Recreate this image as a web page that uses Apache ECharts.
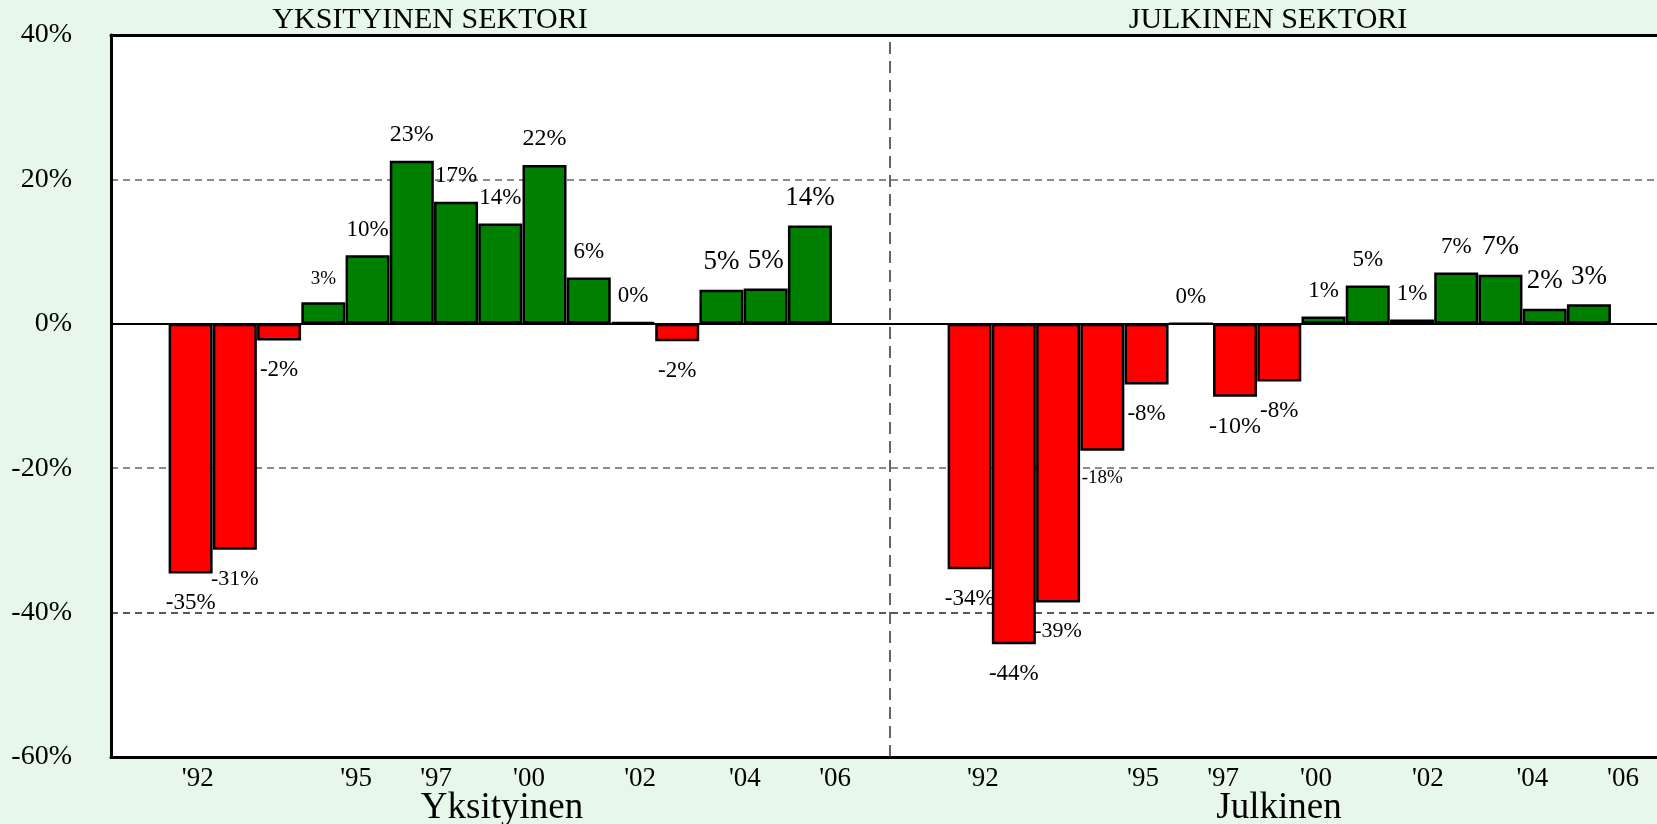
<!DOCTYPE html>
<html>
<head>
<meta charset="utf-8">
<title>Yksityinen ja julkinen sektori</title>
<script src="https://cdn.jsdelivr.net/npm/echarts@6/dist/echarts.min.js"></script>
<style>
  html, body { margin: 0; padding: 0; background: #e7f7e9; }
  #chart { width: 1657px; height: 824px; }
</style>
</head>
<body>
<div id="chart"></div>
<script>
// change in %, 15 bars per panel
const privateValues = [-34.6, -31.3, -2.3, 3.0, 9.5, 22.6, 16.9, 13.9, 22.0, 6.4, 0.2, -2.4, 4.7, 4.9, 13.6];
const publicValues = [-34.0, -44.4, -38.6, -17.6, -8.4, 0, -10.1, -8.0, 1.0, 5.3, 0.6, 7.1, 6.8, 2.1, 2.7];
const tickLabels = ["'92", "'95", "'97", "'00", "'02", "'04", "'06"];

// label font sizes differ a bit in the original
const privateLabelSize = [23, 22, 23, 19, 23, 24, 23, 23, 24, 23, 23, 23, 27, 27, 27];
const publicLabelSize = [23, 23, 22, 19, 23, 23, 24, 23, 23, 23, 23, 23, 28, 27, 27];

// x axis is measured in bar slots; one panel is ~17.6 slots wide
const panelSlots = 17.61;
const firstSlot = 1.8;
const leftTickAt = [1.96, 5.54, 7.35, 9.45, 11.96, 14.33, 16.37];
const rightTickAt = [2.1, 5.72, 7.53, 9.63, 12.16, 14.52, 16.57];

const font = "Liberation Serif";

const tickValues = leftTickAt.concat(rightTickAt.map(function (t) { return t + panelSlots; }));

function barItems(values, sizes, offset) {
  return values.map(function (v, i) {
    return {
      value: [offset + firstSlot + i, v],
      itemStyle: { color: v < 0 ? "#ff0000" : "#008000" },
      label: {
        fontSize: sizes[i],
        position: v < 0 ? "bottom" : "top",
        distance: v < 0 ? 18 : 14
      }
    };
  });
}

const chart = echarts.init(document.getElementById("chart"));

const titleStyle = { fontFamily: font, fontWeight: "normal", color: "#000" };

chart.setOption({
  backgroundColor: "#e7f7e9",
  animation: false,
  title: [
    { text: "YKSITYINEN SEKTORI", left: 430, top: 5, textAlign: "center", padding: 0,
      textStyle: Object.assign({ fontSize: 30 }, titleStyle) },
    { text: "JULKINEN SEKTORI", left: 1268, top: 5, textAlign: "center", padding: 0,
      textStyle: Object.assign({ fontSize: 30 }, titleStyle) },
    { text: "Yksityinen", left: 502, top: 790, textAlign: "center", padding: 0,
      textStyle: Object.assign({ fontSize: 37 }, titleStyle) },
    { text: "Julkinen", left: 1279, top: 790, textAlign: "center", padding: 0,
      textStyle: Object.assign({ fontSize: 37 }, titleStyle) }
  ],
  grid: {
    left: 111,
    top: 35,
    width: 2 * 779,
    height: 722,
    show: true,
    backgroundColor: "#ffffff",
    borderWidth: 0,
    outerBoundsMode: "none"
  },
  xAxis: [
    {
      type: "value",
      min: 0,
      max: 2 * panelSlots,
      position: "bottom",
      axisLine: { show: true, onZero: false, lineStyle: { color: "#000", width: 3 } },
      axisTick: { show: false },
      splitLine: { show: false },
      axisLabel: {
        customValues: tickValues,
        margin: 8,
        fontFamily: font,
        fontSize: 27,
        color: "#000",
        formatter: function (value) {
          for (let i = 0; i < tickValues.length; i++) {
            if (Math.abs(tickValues[i] - value) < 1e-6) return tickLabels[i % tickLabels.length];
          }
          return "";
        }
      }
    },
    {
      type: "value",
      min: 0,
      max: 2 * panelSlots,
      position: "top",
      axisLine: { show: true, onZero: false, lineStyle: { color: "#000", width: 3 } },
      axisTick: { show: false },
      axisLabel: { show: false },
      splitLine: { show: false }
    }
  ],
  yAxis: {
    type: "value",
    min: -60,
    max: 40,
    interval: 20,
    axisLine: { show: true, onZero: false, lineStyle: { color: "#000", width: 3 } },
    axisTick: { show: false },
    axisLabel: {
      formatter: "{value}%",
      margin: 39,
      fontFamily: font,
      fontSize: 28,
      color: "#000"
    },
    splitLine: {
      lineStyle: {
        type: [7, 5],
        width: 1.5,
        color: ["#000", "#222", "#666", "#000", "#666", "#000"]
      }
    }
  },
  series: [
    {
      type: "bar",
      barWidth: 44,
      data: barItems(privateValues, privateLabelSize, 0).concat(
        barItems(publicValues, publicLabelSize, panelSlots)
      ),
      itemStyle: { borderColor: "#000", borderWidth: 2.5 },
      label: {
        show: true,
        fontFamily: font,
        color: "#000",
        formatter: function (p) {
          return Math.round(p.value[1]) + "%";
        }
      },
      markLine: {
        silent: true,
        symbol: "none",
        label: { show: false },
        data: [
          { yAxis: 0, lineStyle: { type: "solid", color: "#000", width: 2 } },
          { xAxis: panelSlots, lineStyle: { type: [12, 7], color: "#333", width: 1.5 } }
        ]
      }
    }
  ]
});

window.addEventListener("resize", function () {
  chart.resize();
});
</script>
</body>
</html>
